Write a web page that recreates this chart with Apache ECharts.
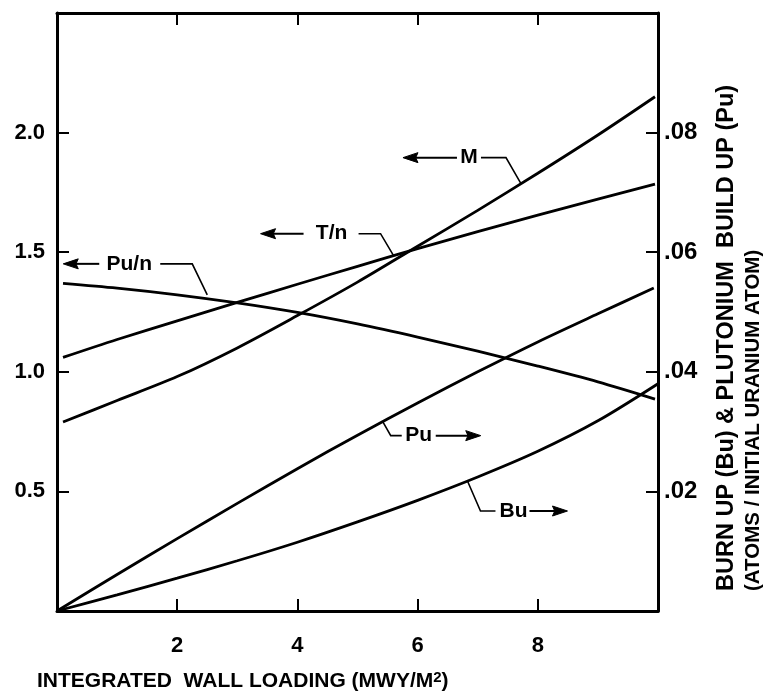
<!DOCTYPE html>
<html><head><meta charset="utf-8">
<script src="https://cdn.jsdelivr.net/npm/echarts@6/dist/echarts.min.js"></script>
<style>html,body{margin:0;padding:0;background:#fff}#c{width:775px;height:699px}</style>
</head><body><div id="c"></div>
<script>
// ---- data ----
const xTicks = [0, 2, 4, 6, 8, 10];
const leftTicks = [0, 0.5, 1.0, 1.5, 2.0, 2.5];
const rightTicks = [0, 0.02, 0.04, 0.06, 0.08, 0.10];
const xLeftCurves = [0.1, 1, 2, 3, 4, 5, 6, 7, 8, 9, 9.95];
const mValues   = [0.79, 0.88, 0.98, 1.10, 1.235, 1.375, 1.525, 1.675, 1.83, 1.99, 2.15];
const tnValues  = [1.06, 1.135, 1.213, 1.29, 1.366, 1.441, 1.515, 1.586, 1.655, 1.722, 1.785];
const punValues = [1.37, 1.35, 1.322, 1.288, 1.248, 1.200, 1.145, 1.086, 1.024, 0.958, 0.886];
const xPu = [0, 1, 2, 3, 4, 5, 6, 7, 8, 9, 9.93];
const puValues = [0, 0.0061, 0.0121, 0.0180, 0.0238, 0.0294, 0.0348, 0.0400, 0.0450, 0.0497, 0.0540];
const xBu = [0, 1, 2, 3, 4, 5, 6, 7, 8, 9, 10];
const buValues = [0, 0.0027, 0.0055, 0.0084, 0.0115, 0.0149, 0.0185, 0.0224, 0.0267, 0.0318, 0.0380];
const xTitle = 'INTEGRATED  WALL LOADING (MWY/M';
const rightTitle1 = 'BURN UP (Bu) & PLUTONIUM  BUILD UP (Pu)';
const rightTitle2 = '(ATOMS / INITIAL URANIUM ATOM)';

// ---- chart ----
const FONT = 'Liberation Sans, Arial, sans-serif';
const chart = echarts.init(document.getElementById('c'), null, {renderer: 'canvas'});
const pairs = (xs, ys) => xs.map((x, i) => [x, ys[i]]);
const axisLine = {show: true, onZero: false, lineStyle: {color: '#000', width: 3}};
const tick = {show: true, inside: true, length: 12, lineStyle: {color: '#000', width: 2}};
const lbl = {color: '#000', fontFamily: FONT, fontWeight: 'bold', fontSize: 22};
const lineSeries = (name, data, yi) => ({
  name, type: 'line', data, yAxisIndex: yi, smooth: 0.3, symbol: 'none',
  lineStyle: {color: '#000', width: 2.8}, z: 3
});

chart.setOption({
  animation: false,
  backgroundColor: '#fff',
  grid: {left: 57, right: 117, top: 13, bottom: 88},
  xAxis: [
    {type: 'value', min: xTicks[0], max: xTicks[xTicks.length - 1], interval: 2, position: 'bottom',
     axisLine, axisTick: tick, splitLine: {show: false},
     axisLabel: Object.assign({}, lbl, {margin: 24, formatter: v => (v === 0 || v === 10) ? '' : String(v)})},
    {type: 'value', min: xTicks[0], max: xTicks[xTicks.length - 1], interval: 2, position: 'top',
     axisLine, axisTick: tick, splitLine: {show: false}, axisLabel: {show: false}}
  ],
  yAxis: [
    {type: 'value', min: leftTicks[0], max: leftTicks[leftTicks.length - 1], interval: 0.5, position: 'left',
     axisLine, axisTick: tick, splitLine: {show: false},
     axisLabel: Object.assign({}, lbl, {margin: 12, formatter: v => (v === 0 || v >= 2.5) ? '' : v.toFixed(1)})},
    {type: 'value', min: rightTicks[0], max: rightTicks[rightTicks.length - 1], interval: 0.02, position: 'right',
     axisLine, axisTick: tick, splitLine: {show: false},
     axisLabel: Object.assign({}, lbl, {fontSize: 24, margin: 6, formatter: v => (v === 0 || v >= 0.099) ? '' : '.' + v.toFixed(2).split('.')[1]})}
  ],
  series: [
    lineSeries('M', pairs(xLeftCurves, mValues), 0),
    lineSeries('T/n', pairs(xLeftCurves, tnValues), 0),
    lineSeries('Pu/n', pairs(xLeftCurves, punValues), 0),
    lineSeries('Pu', pairs(xPu, puValues), 1),
    lineSeries('Bu', pairs(xBu, buValues), 1)
  ]
});

// ---- annotations (anchored to curves through the axes) ----
function interp(xs, ys, x) {
  for (let i = 1; i < xs.length; i++) {
    if (x <= xs[i]) { const t = (x - xs[i - 1]) / (xs[i] - xs[i - 1]); return ys[i - 1] + t * (ys[i] - ys[i - 1]); }
  }
  return ys[ys.length - 1];
}
const annotations = [
  {label: 'M',    xs: xLeftCurves, ys: mValues,   axis: 0, at: 7.72, leader: [[0, 0], [-15, -26], [-40, -26]], textAt: [-52, -26], arrow: [[-64, -26], [-118, -26]]},
  {label: 'T/n',  xs: xLeftCurves, ys: tnValues,  axis: 0, at: 5.6,  leader: [[0, 0], [-13, -22], [-35, -22]], textAt: [-62, -22], arrow: [[-90, -22], [-133, -22]]},
  {label: 'Pu/n', xs: xLeftCurves, ys: punValues, axis: 0, at: 2.5,  leader: [[0, -4], [-15, -35], [-47, -35]], textAt: [-78, -35], arrow: [[-108, -35], [-144, -35]]},
  {label: 'Pu',   xs: xPu, ys: puValues, axis: 1, at: 5.42, leader: [[0, 0], [8, 14], [19, 14]], textAt: [36, 14], arrow: [[53, 14], [98, 14]]},
  {label: 'Bu',   xs: xBu, ys: buValues, axis: 1, at: 6.83, leader: [[0, 0], [13, 30], [28, 30]], textAt: [46, 30], arrow: [[62, 30], [100, 30]]}
];
const graphics = [];
annotations.forEach(a => {
  const p = chart.convertToPixel({xAxisIndex: 0, yAxisIndex: a.axis}, [a.at, interp(a.xs, a.ys, a.at)]);
  const off = q => [p[0] + q[0], p[1] + q[1]];
  graphics.push({type: 'polyline', shape: {points: a.leader.map(off)}, style: {stroke: '#000', lineWidth: 1.6, fill: null}, z: 10});
  const t = off(a.textAt);
  graphics.push({type: 'text', x: t[0], y: t[1], style: {text: a.label, font: 'bold 21px ' + FONT, fill: '#000', textAlign: 'center', textVerticalAlign: 'middle'}, z: 10});
  const s = off(a.arrow[0]), e = off(a.arrow[1]);
  const dir = Math.sign(e[0] - s[0]);
  const hl = 15, hw = 5;
  graphics.push({type: 'line', shape: {x1: s[0], y1: s[1], x2: e[0] - dir * hl * 0.6, y2: e[1]}, style: {stroke: '#000', lineWidth: 2}, z: 10});
  graphics.push({type: 'polygon', shape: {points: [[e[0], e[1]], [e[0] - dir * hl, e[1] - hw], [e[0] - dir * hl * 0.85, e[1]], [e[0] - dir * hl, e[1] + hw]]}, style: {fill: '#000', stroke: '#000', lineWidth: 1}, z: 10});
});
// axis titles
graphics.push({type: 'text', x: 37, y: 681, style: {
  text: '{a|' + xTitle + '}{s|2}{a|)}', textAlign: 'left', textVerticalAlign: 'middle',
  rich: {a: {font: 'bold 21px ' + FONT, fill: '#000', verticalAlign: 'bottom'}, s: {font: 'bold 15px ' + FONT, fill: '#000', verticalAlign: 'top'}}
}});
graphics.push({type: 'text', x: 727, y: 591, rotation: Math.PI / 2, style: {text: rightTitle1, font: 'bold 23.5px ' + FONT, fill: '#000', textAlign: 'left', textVerticalAlign: 'middle'}});
graphics.push({type: 'text', x: 753, y: 591, rotation: Math.PI / 2, style: {text: rightTitle2, font: 'bold 20.5px ' + FONT, fill: '#000', textAlign: 'left', textVerticalAlign: 'middle'}});
chart.setOption({graphic: graphics});
</script>
</body></html>
